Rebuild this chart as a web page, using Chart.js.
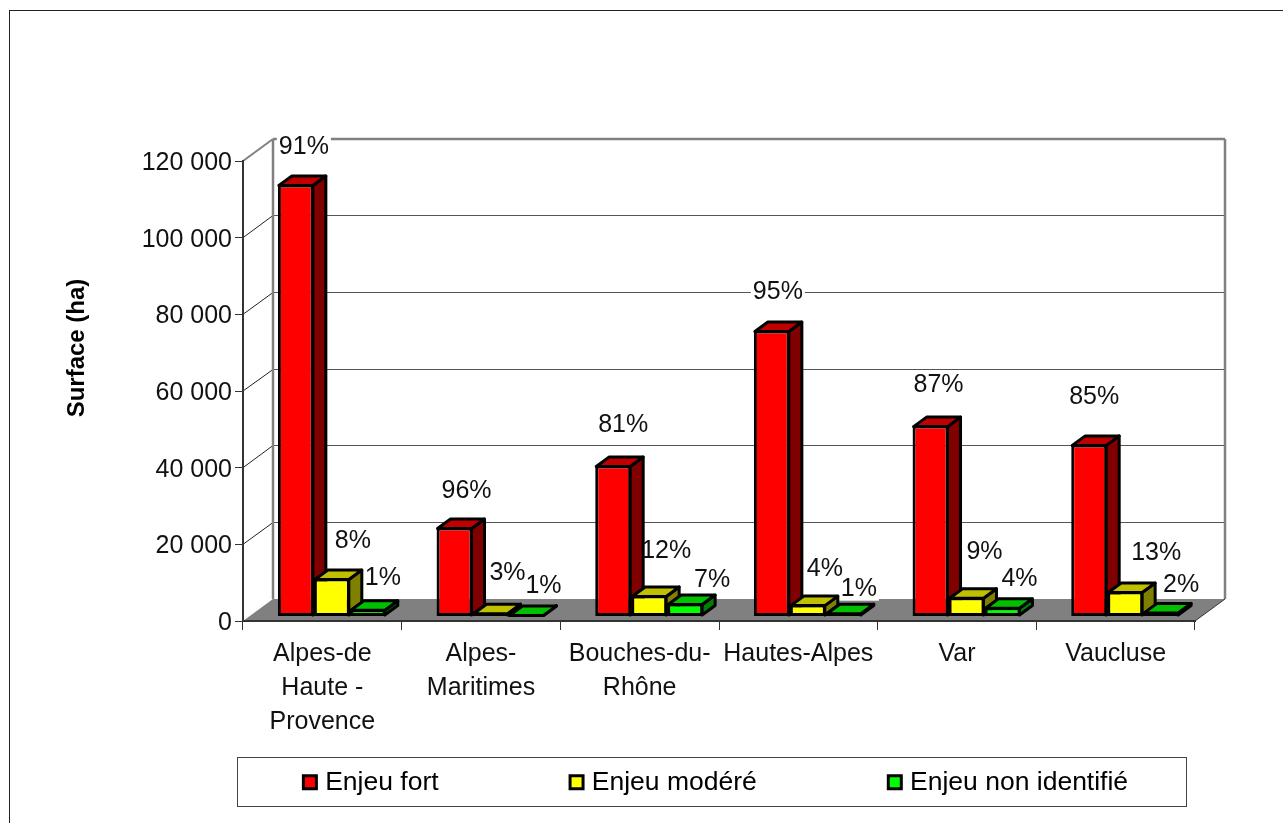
<!DOCTYPE html>
<html lang="fr">
<head>
<meta charset="utf-8">
<title>Surface par enjeu</title>
<script src="https://cdn.jsdelivr.net/npm/chart.js@4/dist/chart.umd.min.js"></script>
<style>
    html, body { margin: 0; padding: 0; background: #fff; overflow: hidden; }
    canvas { display: block; }
</style>
</head>
<body>
<canvas id="surfaceChart" width="1283" height="823"></canvas>
<script>
// données
const departements = [
    ['Alpes-de', 'Haute -', 'Provence'],
    ['Alpes-', 'Maritimes'],
    ['Bouches-du-', 'Rhône'],
    'Hautes-Alpes',
    'Var',
    'Vaucluse'
];
const enjeuFort = [112700, 23200, 39400, 74600, 49800, 44900];
const enjeuModere = [9900, 1000, 5500, 3100, 5000, 6500];
const enjeuNonIdentifie = [1900, 500, 3400, 1000, 2400, 1200];
const partFort = [91, 96, 81, 95, 87, 85];
const partModere = [8, 3, 12, 4, 9, 13];
const partNonIdentifie = [1, 1, 7, 1, 4, 2];
const yTicks = [0, 20000, 40000, 60000, 80000, 100000, 120000];

// décalage de chaque étiquette par rapport au haut de sa barre
const decalagesEtiquettes = [
    [[8, -37], [12, -36], [10, -40], [6, -38], [8, -40], [5, -47]],
    [[21, -37], [17, -40], [17, -44], [17, -36], [18, -45], [31, -38]],
    [[15, -31], [17, -28], [27, -23], [15, -24], [17, -28], [20, -27]]
];
const parts = [partFort, partModere, partNonIdentifie];

const FONT = 'Liberation Sans, Arial, sans-serif';
const wall = { dx: 30, dy: 22 };         // profondeur du fond
const barShift = { x: 9.5, y: -4.5 };    // barres posées au milieu du sol
const barDepth = { dx: 13, dy: 9.5 };    // profondeur d'une barre
const barBorder = 3;
const faces = [
    { side: '#800000', top: '#c00000' },
    { side: '#808000', top: '#c0c000' },
    { side: '#008000', top: '#00c000' }
];

function poly(ctx, pts, fill) {
    ctx.beginPath();
    pts.forEach((p, i) => (i ? ctx.lineTo(p[0], p[1]) : ctx.moveTo(p[0], p[1])));
    ctx.closePath();
    if (fill) {
        ctx.fillStyle = fill;
        ctx.fill();
    }
}

function line(ctx, x1, y1, x2, y2, color, width) {
    ctx.beginPath();
    ctx.moveTo(x1, y1);
    ctx.lineTo(x2, y2);
    ctx.strokeStyle = color;
    ctx.lineWidth = width;
    ctx.stroke();
}

function forEachLabel(chart, draw) {
    parts.forEach((serie, s) => {
        const bars = chart.getDatasetMeta(s).data;
        serie.forEach((pct, i) => {
            const d = decalagesEtiquettes[s][i];
            draw(pct + '%', bars[i].x + barShift.x + d[0], bars[i].y + barShift.y + d[1]);
        });
    });
}

// faces du dessus et de côté d'une série
function drawFaces(ctx, meta, face) {
    ctx.save();
    ctx.strokeStyle = '#000';
    ctx.lineWidth = barBorder;
    ctx.lineJoin = 'round';
    meta.data.forEach(bar => {
        const x1 = bar.x - bar.width / 2 + 1;
        const x2 = bar.x + bar.width / 2 - 1;
        const t = bar.y + 1;
        const b = bar.base - 1;
        const { dx, dy } = barDepth;
        poly(ctx, [[x2, t], [x2 + dx, t - dy], [x2 + dx, b - dy], [x2, b]], face.side);
        ctx.stroke();
        poly(ctx, [[x1, t], [x1 + dx, t - dy], [x2 + dx, t - dy], [x2, t]], face.top);
        ctx.stroke();
    });
    ctx.restore();
}

const decor3d = {
    id: 'decor3d',
    afterLayout(chart) {
        // la légende garde son grand écart horizontal mais reste dans son cadre
        const legend = chart.legend;
        legend.left = 149;
        legend.right = 1287;
        legend.top = 633;
        legend.bottom = 823;
    },
    beforeDraw(chart) {
        const ctx = chart.ctx;
        const { left, right, top, bottom } = chart.chartArea;
        const y = chart.scales.y;
        ctx.save();

        // cadre extérieur et cadre de la légende
        ctx.strokeStyle = '#222';
        ctx.lineWidth = 1;
        ctx.strokeRect(9.5, 10.5, 1290, 830);
        ctx.strokeStyle = '#444';
        ctx.strokeRect(237.5, 757.5, 949, 49);

        // sol
        poly(ctx, [
            [left, bottom],
            [left + wall.dx, bottom - wall.dy],
            [right + wall.dx, bottom - wall.dy],
            [right, bottom]
        ], '#808080');

        // quadrillage du fond et de la paroi gauche
        yTicks.forEach(v => {
            if (v === 0 || v === 120000) return;
            const py = y.getPixelForValue(v);
            const back = Math.floor(py - wall.dy) + 0.5;
            line(ctx, left, py, left + wall.dx, back, '#222', 1);
            line(ctx, left + wall.dx, back, right + wall.dx, back, '#555', 1);
        });

        // arêtes grises
        line(ctx, left, top, left + wall.dx, top - wall.dy, '#808080', 2);
        line(ctx, left + wall.dx, top - wall.dy, right + wall.dx, top - wall.dy, '#808080', 2.5);
        line(ctx, left + wall.dx, top - wall.dy, left + wall.dx, bottom - wall.dy, '#808080', 2.5);
        line(ctx, right + wall.dx, top - wall.dy, right + wall.dx, bottom - wall.dy, '#808080', 2.5);
        line(ctx, right, bottom, right + wall.dx, bottom - wall.dy, '#333', 1);
        ctx.restore();
    },
    beforeDatasetsDraw(chart) {
        const ctx = chart.ctx;

        // fond blanc des étiquettes, sous les barres
        ctx.save();
        ctx.font = '25px ' + FONT;
        forEachLabel(chart, (txt, x, y) => {
            const w = ctx.measureText(txt).width + 4;
            ctx.fillStyle = '#fff';
            ctx.fillRect(x - w / 2, y - 12, w, 24);
        });
        ctx.restore();

        // barres de gauche à droite : chacune recouvre le flanc de la précédente
        ctx.save();
        ctx.translate(barShift.x, barShift.y);
        faces.forEach((face, s) => {
            const meta = chart.getDatasetMeta(s);
            drawFaces(ctx, meta, face);
            meta.controller.draw();
        });
        ctx.restore();

        // étiquettes en pourcentage
        ctx.save();
        ctx.font = '25px ' + FONT;
        ctx.fillStyle = '#111';
        ctx.textAlign = 'center';
        ctx.textBaseline = 'middle';
        forEachLabel(chart, (txt, x, y) => ctx.fillText(txt, x, y));

        // titre de l'axe, plus haut que le milieu de l'axe
        ctx.translate(77, 348);
        ctx.rotate(-Math.PI / 2);
        ctx.font = 'bold 24px ' + FONT;
        ctx.fillStyle = '#000';
        ctx.fillText('Surface (ha)', 0, 0);
        ctx.restore();

        return false;
    }
};

function serie(label, data, color) {
    return {
        label: label,
        data: data,
        backgroundColor: color,
        borderColor: '#000',
        borderWidth: barBorder,
        borderSkipped: false,
        inflateAmount: 0,
        clip: false,
        categoryPercentage: 0.68,
        barPercentage: 1
    };
}

new Chart(document.getElementById('surfaceChart').getContext('2d'), {
    type: 'bar',
    data: {
        labels: departements,
        datasets: [
            serie('Enjeu fort', enjeuFort, '#ff0000'),
            serie('Enjeu modéré', enjeuModere, '#ffff00'),
            serie('Enjeu non identifié', enjeuNonIdentifie, '#00ff00')
        ]
    },
    plugins: [decor3d],
    options: {
        responsive: false,
        animation: false,
        layout: { padding: { left: 60, right: 88, top: 161, bottom: 0 } },
        plugins: {
            tooltip: { enabled: false },
            legend: {
                position: 'bottom',
                maxHeight: 50,
                labels: {
                    color: '#000',
                    font: { family: FONT, size: 26.5 },
                    usePointStyle: true,
                    pointStyle: 'rect',
                    boxWidth: 4,
                    boxHeight: 13,
                    padding: 136
                }
            }
        },
        scales: {
            x: {
                afterFit(scale) { scale.height = 152; },
                grid: {
                    drawOnChartArea: false,
                    color: '#333',
                    tickLength: 9
                },
                border: { color: '#333', width: 2 },
                ticks: {
                    color: '#111',
                    font: { family: FONT, size: 25, lineHeight: 1.36 },
                    maxRotation: 0,
                    autoSkip: false,
                    padding: 7
                }
            },
            y: {
                min: 0,
                max: 120000,
                afterFit(scale) { scale.width = 183; },
                afterBuildTicks(scale) { scale.ticks = yTicks.map(v => ({ value: v })); },
                grid: {
                    drawOnChartArea: false,
                    color: '#333',
                    tickLength: 8
                },
                border: { color: '#333', width: 2 },
                ticks: {
                    color: '#111',
                    font: { family: FONT, size: 25 },
                    padding: 3,
                    labelOffset: 2,
                    callback: function(value) {
                        return String(value).replace(/\B(?=(\d{3})+$)/g, ' ');
                    }
                }
            }
        }
    }
});
</script>
</body>
</html>
